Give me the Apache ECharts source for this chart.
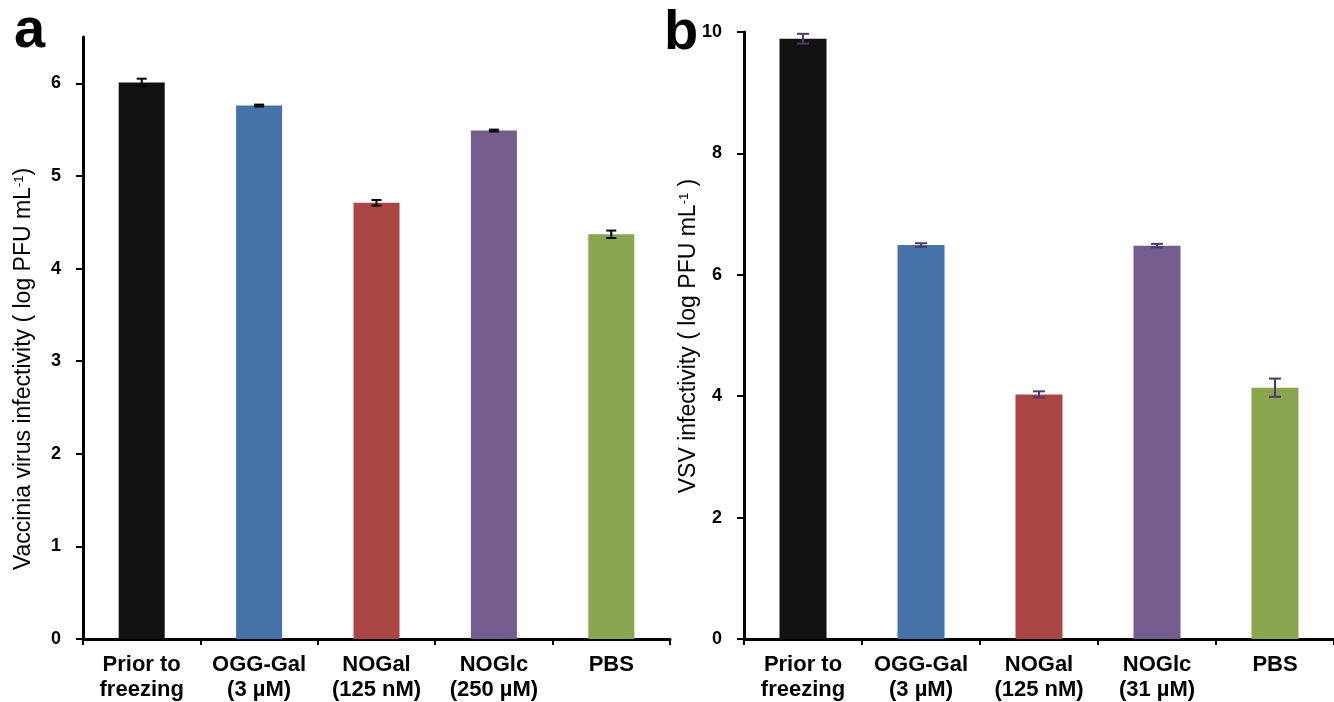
<!DOCTYPE html>
<html>
<head>
<meta charset="utf-8">
<script src="https://cdn.jsdelivr.net/npm/echarts@6/dist/echarts.min.js"></script>
<style>
    html, body { margin: 0; padding: 0; background: #fff; }
    #chart { width: 1334px; height: 702px; }
</style>
</head>
<body>
<div id="chart"></div>
<script>
var categoriesA = ['Prior to\nfreezing', 'OGG-Gal\n(3 µM)', 'NOGal\n(125 nM)', 'NOGlc\n(250 µM)', 'PBS'];
var categoriesB = ['Prior to\nfreezing', 'OGG-Gal\n(3 µM)', 'NOGal\n(125 nM)', 'NOGlc\n(31 µM)', 'PBS'];
var valuesA = [6.01, 5.76, 4.71, 5.49, 4.37];
var errorsA = [0.04, 0.01, 0.03, 0.01, 0.04];
var valuesB = [9.89, 6.49, 4.03, 6.48, 4.14];
var errorsB = [0.08, 0.03, 0.05, 0.03, 0.15];
var yNameA = 'Vaccinia virus infectivity ( log PFU mL{sup|-1})';
var yNameB = 'VSV infectivity ( log PFU mL{sup|-1} )';
var barColors = ['#111111', '#4572A7', '#AA4643', '#745C8E', '#89A54E'];

(function () {
    var myChart = echarts.init(document.getElementById('chart'));
    var font = 'Liberation Sans, Arial, sans-serif';

    function barData(values) {
        return values.map(function (v, i) {
            return { value: v, itemStyle: { color: barColors[i] } };
        });
    }

    function errData(values, errors) {
        return values.map(function (v, i) { return [i, v, errors[i]]; });
    }

    // error bar: vertical line with two caps
    function errRender(color, half) {
        return function (params, api) {
            var x = api.value(0), y = api.value(1), e = api.value(2);
            var hi = api.coord([x, y + e]);
            var lo = api.coord([x, y - e]);
            var st = { stroke: color, lineWidth: 2 };
            return {
                type: 'group',
                children: [
                    { type: 'line', shape: { x1: hi[0], y1: hi[1], x2: lo[0], y2: lo[1] }, style: st },
                    { type: 'line', shape: { x1: hi[0] - half, y1: hi[1], x2: hi[0] + half, y2: hi[1] }, style: st },
                    { type: 'line', shape: { x1: lo[0] - half, y1: lo[1], x2: lo[0] + half, y2: lo[1] }, style: st }
                ]
            };
        };
    }

    function xAxis(idx, cats) {
        return {
            type: 'category',
            gridIndex: idx,
            data: cats,
            axisLine: { lineStyle: { color: '#000', width: 3 } },
            axisTick: { show: true, length: 6, lineStyle: { color: '#000', width: 2 } },
            axisLabel: {
                color: '#000', fontFamily: font, fontWeight: 'bold', fontSize: 22,
                lineHeight: 25, margin: 13, interval: 0
            }
        };
    }

    function yAxis(idx, max, interval, margin, showMax) {
        return {
            type: 'value',
            gridIndex: idx,
            min: 0,
            max: max,
            interval: interval,
            splitLine: { show: false },
            axisLine: { show: true, lineStyle: { color: '#000', width: 3 } },
            axisTick: { show: true, length: 7, lineStyle: { color: '#000', width: 2 } },
            axisLabel: {
                color: '#000', fontFamily: font, fontWeight: 'bold', fontSize: 18,
                margin: margin, showMaxLabel: showMax
            }
        };
    }

    function yName(text, x, y) {
        return {
            type: 'text',
            x: x,
            y: y,
            rotation: Math.PI / 2,
            style: {
                text: text,
                fill: '#000',
                fontFamily: font,
                fontSize: 23,
                align: 'center',
                verticalAlign: 'middle',
                rich: {
                    sup: { fontSize: 13, verticalAlign: 'top', fill: '#000', fontFamily: font, padding: [0, 0, 10, 0] }
                }
            }
        };
    }

    var option = {
        backgroundColor: '#fff',
        animation: false,
        title: [
            { text: 'a', left: 9, top: -1, textStyle: { fontSize: 56, fontWeight: 'bold', color: '#000', fontFamily: font } },
            { text: 'b', left: 659, top: 1, textStyle: { fontSize: 56, fontWeight: 'bold', color: '#000', fontFamily: font } }
        ],
        grid: [
            { left: 83, top: 37, width: 587, bottom: 62 },
            { left: 744, top: 32, width: 595, bottom: 60 }
        ],
        xAxis: [xAxis(0, categoriesA), xAxis(1, categoriesB)],
        yAxis: [
            yAxis(0, 6.5, 1, 22, false),
            yAxis(1, 10, 2, 22, true)
        ],
        graphic: [
            yName(yNameA, 24, 369),
            yName(yNameB, 689, 336)
        ],
        series: [
            {
                type: 'bar', xAxisIndex: 0, yAxisIndex: 0, barWidth: 46,
                data: barData(valuesA)
            },
            {
                type: 'custom', xAxisIndex: 0, yAxisIndex: 0, z: 5,
                renderItem: errRender('#000', 5),
                encode: { x: 0, y: 1 },
                data: errData(valuesA, errorsA)
            },
            {
                type: 'bar', xAxisIndex: 1, yAxisIndex: 1, barWidth: 47,
                data: barData(valuesB)
            },
            {
                type: 'custom', xAxisIndex: 1, yAxisIndex: 1, z: 5,
                renderItem: errRender('#4B3A6E', 6),
                encode: { x: 0, y: 1 },
                data: errData(valuesB, errorsB)
            }
        ]
    };
    myChart.setOption(option);
})();
</script>
</body>
</html>
